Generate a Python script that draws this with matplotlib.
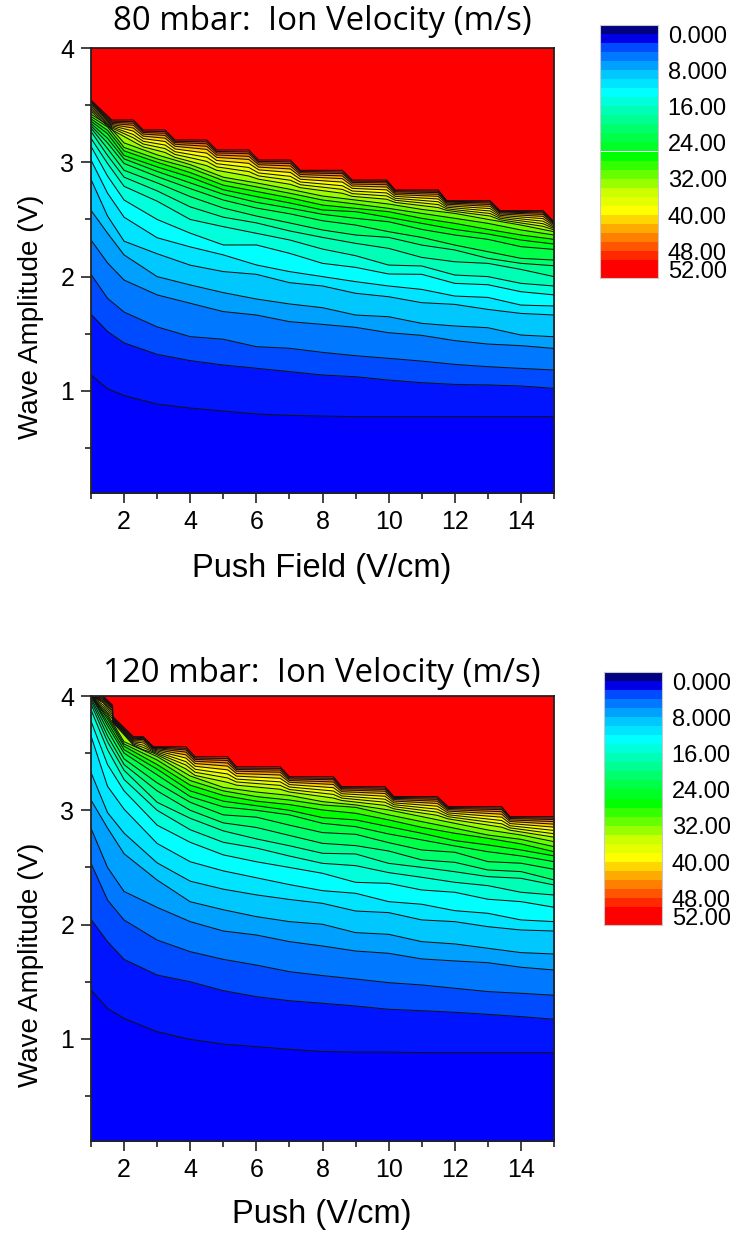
import numpy as np
import matplotlib
matplotlib.use('Agg')
import matplotlib.pyplot as plt

W, H = 730, 1234

# x positions of the lower contour lines (V/cm)
x_low = [1, 1.5, 2, 3, 4, 5, 6, 7, 8, 9, 10, 11, 12, 13, 14, 15]

# 80 mbar, one row per x_low, contours 2,4,...,34 m/s
v80_low = [
    [1.14, 1.67, 2.02, 2.32, 2.58, 2.85, 3.02, 3.14, 3.21, 3.27, 3.30, 3.32, 3.34, 3.36, 3.38, 3.40, 3.42],
    [1.02, 1.52, 1.81, 2.12, 2.38, 2.53, 2.73, 2.88, 2.99, 3.06, 3.12, 3.17, 3.21, 3.25, 3.28, 3.31, 3.33],
    [.96, 1.42, 1.69, 1.97, 2.19, 2.31, 2.52, 2.67, 2.79, 2.87, 2.93, 2.99, 3.03, 3.06, 3.10, 3.13, 3.17],
    [.885, 1.32, 1.56, 1.84, 2.0, 2.2, 2.34, 2.5, 2.66, 2.75, 2.82, 2.875, 2.92, 2.96, 3.0, 3.03, 3.065],
    [.85, 1.265, 1.475, 1.767, 1.927, 2.10, 2.26, 2.38, 2.50, 2.61, 2.70, 2.77, 2.82, 2.87, 2.91, 2.95, 2.98],
    [.824, 1.227, 1.452, 1.694, 1.86, 2.044, 2.19, 2.277, 2.437, 2.52, 2.60, 2.67, 2.72, 2.76, 2.80, 2.84, 2.87],
    [.798, 1.198, 1.387, 1.664, 1.804, 2.02, 2.102, 2.277, 2.379, 2.47, 2.53, 2.60, 2.65, 2.70, 2.745, 2.785, 2.82],
    [.786, 1.169, 1.373, 1.606, 1.761, 1.947, 2.044, 2.204, 2.321, 2.40, 2.47, 2.55, 2.60, 2.645, 2.69, 2.73, 2.765],
    [.78, 1.139, 1.337, 1.582, 1.728, 1.918, 2.0, 2.116, 2.241, 2.343, 2.408, 2.489, 2.545, 2.583, 2.626, 2.67, 2.705],
    [.775, 1.124, 1.308, 1.556, 1.664, 1.854, 1.956, 2.081, 2.183, 2.291, 2.364, 2.451, 2.51, 2.568, 2.597, 2.635, 2.67],
    [.775, 1.095, 1.285, 1.509, 1.649, 1.824, 1.918, 2.023, 2.101, 2.247, 2.343, 2.393, 2.48, 2.518, 2.568, 2.597, 2.635],
    [.775, 1.072, 1.261, 1.486, 1.591, 1.772, 1.888, 2.02, 2.093, 2.168, 2.276, 2.343, 2.413, 2.466, 2.51, 2.553, 2.588],
    [.775, 1.057, 1.232, 1.44, 1.568, 1.757, 1.83, 1.941, 2.014, 2.13, 2.233, 2.276, 2.364, 2.413, 2.466, 2.51, 2.553],
    [.775, 1.052, 1.212, 1.41, 1.553, 1.713, 1.818, 1.929, 2.0, 2.116, 2.16, 2.218, 2.326, 2.373, 2.413, 2.466, 2.501],
    [.775, 1.043, 1.197, 1.396, 1.489, 1.678, 1.751, 1.868, 1.941, 2.063, 2.116, 2.16, 2.262, 2.32, 2.364, 2.408, 2.451],
    [.775, 1.022, 1.183, 1.372, 1.474, 1.664, 1.743, 1.84, 1.918, 2.0, 2.095, 2.145, 2.238, 2.285, 2.326, 2.364, 2.393],
]

# 80 mbar, staircase part, one row per x_top80, contours 52,50,...,36 m/s
x_top80 = [1, 1.63, 2.28, 2.58, 3.24, 3.54, 4.5, 4.8, 5.77, 6.07, 7.03, 7.33, 8.6, 8.9, 9.94, 10.2, 11.5, 11.76, 13.07, 13.37, 14.67, 15]
v80_top = [
    [3.545, 3.535, 3.525, 3.515, 3.505, 3.49, 3.475, 3.46, 3.445],
    [3.37, 3.36, 3.35, 3.34, 3.33, 3.32, 3.31, 3.30, 3.285],
    [3.37, 3.356, 3.342, 3.324, 3.30, 3.273, 3.243, 3.214, 3.181],
    [3.283, 3.272, 3.261, 3.247, 3.229, 3.207, 3.184, 3.16, 3.135],
    [3.283, 3.269, 3.254, 3.235, 3.211, 3.182, 3.151, 3.12, 3.086],
    [3.195, 3.184, 3.173, 3.158, 3.14, 3.117, 3.093, 3.069, 3.043],
    [3.195, 3.179, 3.162, 3.14, 3.113, 3.08, 3.044, 3.008, 2.97],
    [3.108, 3.095, 3.082, 3.064, 3.043, 3.016, 2.988, 2.96, 2.93],
    [3.108, 3.091, 3.075, 3.052, 3.025, 2.991, 2.955, 2.919, 2.88],
    [3.02, 3.008, 2.995, 2.979, 2.958, 2.934, 2.907, 2.881, 2.852],
    [3.02, 3.004, 2.989, 2.968, 2.942, 2.911, 2.877, 2.843, 2.807],
    [2.93, 2.919, 2.908, 2.893, 2.875, 2.852, 2.828, 2.804, 2.778],
    [2.93, 2.915, 2.901, 2.881, 2.857, 2.827, 2.795, 2.763, 2.729],
    [2.845, 2.835, 2.824, 2.81, 2.793, 2.772, 2.749, 2.726, 2.702],
    [2.845, 2.833, 2.82, 2.804, 2.784, 2.759, 2.732, 2.706, 2.677],
    [2.758, 2.75, 2.742, 2.731, 2.718, 2.702, 2.685, 2.668, 2.649],
    [2.758, 2.747, 2.735, 2.72, 2.702, 2.679, 2.655, 2.63, 2.604],
    [2.664, 2.658, 2.652, 2.643, 2.633, 2.62, 2.607, 2.593, 2.579],
    [2.664, 2.654, 2.644, 2.631, 2.615, 2.595, 2.574, 2.552, 2.53],
    [2.577, 2.571, 2.565, 2.558, 2.548, 2.536, 2.524, 2.511, 2.497],
    [2.577, 2.567, 2.557, 2.544, 2.527, 2.507, 2.485, 2.463, 2.44],
    [2.48, 2.475, 2.47, 2.463, 2.454, 2.443, 2.432, 2.421, 2.409],
]

# 120 mbar, one row per x_low, contours 2,4,...,34 m/s
v120_low = [
    [1.428, 2.046, 2.536, 2.842, 3.09, 3.33, 3.65, 3.78, 3.88, 3.93, 3.96, 3.98, 4.0, 4.0, 4.0, 4.0, 4.0],
    [1.267, 1.851, 2.215, 2.5, 2.845, 2.98, 3.21, 3.40, 3.53, 3.60, 3.65, 3.70, 3.74, 3.77, 3.80, 3.82, 3.84],
    [1.18, 1.696, 2.04, 2.29, 2.62, 2.8, 3.01, 3.17, 3.27, 3.35, 3.40, 3.45, 3.50, 3.53, 3.56, 3.58, 3.60],
    [1.063, 1.559, 1.865, 2.151, 2.39, 2.54, 2.71, 2.87, 3.0, 3.07, 3.17, 3.24, 3.31, 3.36, 3.40, 3.44, 3.47],
    [.996, 1.5, 1.763, 2.026, 2.2, 2.38, 2.55, 2.72, 2.83, 2.93, 3.0, 3.07, 3.12, 3.17, 3.22, 3.26, 3.30],
    [.955, 1.422, 1.696, 1.944, 2.13, 2.31, 2.47, 2.61, 2.72, 2.82, 2.89, 2.96, 3.03, 3.08, 3.13, 3.17, 3.20],
    [.932, 1.37, 1.646, 1.909, 2.07, 2.26, 2.41, 2.55, 2.67, 2.75, 2.85, 2.94, 3.0, 3.04, 3.08, 3.12, 3.16],
    [.909, 1.334, 1.588, 1.851, 2.026, 2.22, 2.35, 2.50, 2.6, 2.69, 2.78, 2.87, 2.96, 3.0, 3.05, 3.09, 3.13],
    [.89, 1.312, 1.554, 1.813, 2.003, 2.186, 2.297, 2.449, 2.536, 2.624, 2.711, 2.805, 2.886, 2.936, 3.003, 3.047, 3.076],
    [.885, 1.288, 1.524, 1.769, 1.93, 2.119, 2.274, 2.37, 2.516, 2.618, 2.691, 2.79, 2.857, 2.916, 2.974, 3.026, 3.047],
    [.885, 1.259, 1.492, 1.749, 1.915, 2.105, 2.201, 2.361, 2.455, 2.536, 2.644, 2.717, 2.793, 2.857, 2.916, 2.96, 3.003],
    [.88, 1.247, 1.472, 1.7, 1.851, 2.041, 2.178, 2.303, 2.414, 2.501, 2.566, 2.653, 2.741, 2.799, 2.851, 2.901, 2.945],
    [.88, 1.233, 1.443, 1.682, 1.831, 2.026, 2.122, 2.283, 2.37, 2.463, 2.545, 2.633, 2.688, 2.735, 2.799, 2.843, 2.886],
    [.88, 1.215, 1.414, 1.667, 1.793, 1.982, 2.099, 2.222, 2.341, 2.42, 2.478, 2.551, 2.638, 2.697, 2.755, 2.784, 2.828],
    [.88, 1.195, 1.399, 1.627, 1.755, 1.953, 2.041, 2.201, 2.283, 2.405, 2.464, 2.537, 2.601, 2.653, 2.706, 2.746, 2.784],
    [.88, 1.172, 1.382, 1.603, 1.743, 1.944, 2.026, 2.152, 2.259, 2.347, 2.391, 2.484, 2.551, 2.601, 2.638, 2.682, 2.726],
]

# 120 mbar, staircase part, one row per x_top120, contours 52,50,...,36 m/s
x_top120 = [1, 1.37, 1.65, 1.66, 2.28, 2.58, 2.885, 3.87, 4.15, 5.13, 5.4, 6.72, 7.0, 8.33, 8.58, 9.89, 10.16, 11.47, 11.8, 13.42, 13.67, 15]
v120_top = [
    [4.0, 4.0, 4.0, 4.0, 4.0, 4.0, 4.0, 4.0, 4.0],
    [4.0, 3.99, 3.98, 3.97, 3.96, 3.95, 3.94, 3.92, 3.90],
    [3.92, 3.91, 3.90, 3.89, 3.875, 3.86, 3.84, 3.82, 3.80],
    [3.82, 3.813, 3.807, 3.80, 3.794, 3.788, 3.782, 3.776, 3.77],
    [3.644, 3.635, 3.626, 3.617, 3.608, 3.599, 3.59, 3.58, 3.57],
    [3.644, 3.637, 3.63, 3.62, 3.607, 3.59, 3.57, 3.55, 3.53],
    [3.556, 3.552, 3.548, 3.543, 3.536, 3.528, 3.52, 3.511, 3.502],
    [3.556, 3.542, 3.528, 3.509, 3.485, 3.457, 3.426, 3.396, 3.362],
    [3.469, 3.457, 3.445, 3.429, 3.409, 3.385, 3.359, 3.333, 3.305],
    [3.469, 3.453, 3.436, 3.414, 3.387, 3.354, 3.318, 3.283, 3.244],
    [3.381, 3.369, 3.357, 3.342, 3.322, 3.299, 3.273, 3.248, 3.22],
    [3.381, 3.367, 3.352, 3.333, 3.309, 3.28, 3.249, 3.218, 3.184],
    [3.294, 3.284, 3.274, 3.261, 3.245, 3.225, 3.204, 3.182, 3.16],
    [3.294, 3.28, 3.267, 3.248, 3.226, 3.198, 3.169, 3.139, 3.107],
    [3.207, 3.198, 3.189, 3.178, 3.163, 3.145, 3.126, 3.107, 3.086],
    [3.207, 3.195, 3.183, 3.167, 3.147, 3.123, 3.097, 3.071, 3.043],
    [3.12, 3.112, 3.104, 3.094, 3.081, 3.065, 3.049, 3.032, 3.013],
    [3.12, 3.108, 3.096, 3.08, 3.06, 3.036, 3.01, 2.984, 2.956],
    [3.032, 3.024, 3.016, 3.006, 2.993, 2.977, 2.961, 2.944, 2.925],
    [3.032, 3.019, 3.006, 2.988, 2.966, 2.94, 2.911, 2.882, 2.852],
    [2.945, 2.936, 2.928, 2.916, 2.902, 2.884, 2.865, 2.846, 2.826],
    [2.945, 2.932, 2.919, 2.901, 2.879, 2.853, 2.824, 2.795, 2.765],
]

# fill colours, lowest band first
band_colors = ['#0000ff', '#0014ff', '#004bff', '#0078ff', '#00a0ff', '#00c8ff', '#00e4ff', '#00ffff',
               '#00ffdb', '#00ffb6', '#00ff92', '#00ff6d', '#00ff49', '#00ff24', '#00ff00',
               '#33ff00', '#66ff00', '#99ff00', '#ccff00', '#e6ff00', '#ffff00',
               '#ffd700', '#ffaa00', '#ff8000', '#ff5500', '#ff2800', '#ff0000']
bar_values = list(range(-2, 54, 2))
bar_colors = ['#000080', '#0000e6'] + band_colors[2:] + ['#ff0000']
bar_labels = ['0.000', '8.000', '16.00', '24.00', '32.00', '40.00', '48.00', '52.00']
bar_ticks = [0, 8, 16, 24, 32, 40, 48, 52]

title_font = ['Open Sans', 'DejaVu Sans']
font = ['Liberation Sans', 'DejaVu Sans']


def px_axes(fig, left, top, right, bottom):
    return fig.add_axes([left / W, 1 - bottom / H, (right - left) / W, (bottom - top) / H])


def draw_panel(fig, box, low, x_top, top, title, xlabel, title_y, xlabel_y, ylabel_y):
    ax = px_axes(fig, *box)
    ax.set_facecolor('#ff0000')
    low = np.array(low).T
    top = np.array(top).T
    curves = [(x_low, c) for c in low] + [(x_top, c) for c in top[::-1]]
    # paint from the top contour down so each band covers the one above
    for k in range(len(curves) - 1, -1, -1):
        xs, ys = curves[k]
        ax.fill_between(xs, 0, ys, color=band_colors[k], linewidth=0, zorder=1)
    for xs, ys in curves:
        ax.plot(xs, ys, color='#111111', lw=0.75, zorder=2)
    ax.set_xlim(1, 15)
    ax.set_ylim(0.107, 4)
    ax.set_xticks([2, 4, 6, 8, 10, 12, 14])
    ax.set_xticks([1, 3, 5, 7, 9, 11, 13, 15], minor=True)
    ax.set_yticks([1, 2, 3, 4])
    ax.set_yticks([0.5, 1.5, 2.5, 3.5], minor=True)
    ax.tick_params(which='major', length=7, width=1.2, labelsize=18, pad=5, color='#222222')
    ax.tick_params(which='minor', length=4, width=1.2, color='#222222')
    for lab in ax.get_xticklabels() + ax.get_yticklabels():
        lab.set_family(font)
    for s in ax.spines.values():
        s.set_linewidth(1.3)
        s.set_color('#222222')
    fig.text(322 / W, 1 - title_y / H, title, ha='center', va='center', fontsize=23.8, family=title_font)
    fig.text(322 / W, 1 - xlabel_y / H, xlabel, ha='center', va='center', fontsize=23.5, family=font)
    fig.text(31 / W, 1 - ylabel_y / H, 'Wave Amplitude (V)', ha='center', va='center', rotation=90,
             fontsize=20, family=font)


def draw_bar(fig, box):
    ax = px_axes(fig, *box)
    ax.bar(0, [2] * len(bar_values), bottom=bar_values, width=1, color=bar_colors, align='edge', linewidth=0)
    ax.set_xlim(0, 1)
    ax.set_ylim(54, -2)
    ax.set_xticks([])
    ax.set_yticks([])
    for s in ax.spines.values():
        s.set_color('#c8c8c8')
        s.set_linewidth(0.8)
    for val, lab in zip(bar_ticks, bar_labels):
        ax.annotate(lab, xy=(1, val), xycoords=('axes fraction', 'data'), xytext=(7, -2),
                    textcoords='offset points', va='center', ha='left', fontsize=17, family=font)


fig = plt.figure(figsize=(W / 100, H / 100), dpi=100)
draw_panel(fig, (91, 48, 554, 493), v80_low, x_top80, v80_top,
           '80 mbar:  Ion Velocity (m/s)', 'Push Field (V/cm)', 22, 568, 317)
draw_panel(fig, (91, 696, 554, 1141), v120_low, x_top120, v120_top,
           '120 mbar:  Ion Velocity (m/s)', 'Push (V/cm)', 673, 1215, 965)
draw_bar(fig, (600, 25, 658, 278))
draw_bar(fig, (604, 672, 662, 925))
fig.savefig('out.png', dpi=100)
